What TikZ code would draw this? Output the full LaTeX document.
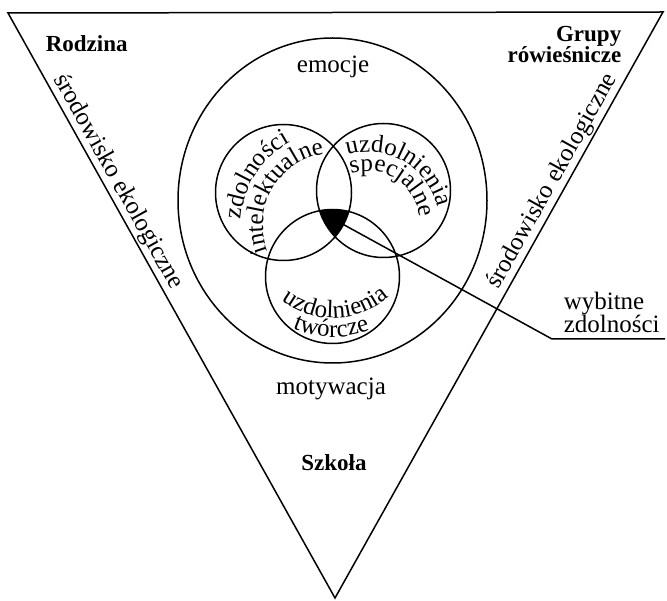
\documentclass[tikz,border=0pt]{standalone}
\usepackage{fontspec}
\setmainfont{Liberation Serif}
\usetikzlibrary{decorations.text,positioning}

\newcommand\arcfont{\fontsize{25}{25}\selectfont}

\begin{document}
\begin{tikzpicture}[
    x=1pt, y=1pt,
    line width=1.5pt,
    every node/.style={inner sep=0pt}
]

% Define styles
\tikzstyle{word} = [font=\fontsize{25}{23}\selectfont]
\tikzstyle{heading} = [font=\bfseries\fontsize{23}{21}\selectfont]
\tikzstyle{side} = [word, sloped, above, inner sep=1.5pt]
\tikzset{arctext/.style={decorate,
    decoration={text along path, text align=center, text={|\arcfont|#1}}}}

\useasboundingbox (0,0) rectangle (667,-601);

% Corners and centres
\coordinate (tl) at (8,-13);
\coordinate (tr) at (663,-12);
\coordinate (apex) at (335,-598);
\coordinate (intel) at (283.5,-192.5);
\coordinate (spec) at (383.5,-190.5);
\coordinate (tworcze) at (332.5,-276.5);

% Triangle and ellipse
\draw (tl) -- (tr) -- (apex) -- cycle;
\draw (332.5,-200.5) ellipse [x radius=154.5, y radius=162.5];

% Common part of the three circles
\begin{scope}
  \clip (intel) circle [radius=68];
  \clip (spec) circle [radius=67];
  \fill (tworcze) circle [radius=67];
\end{scope}

\draw (intel) circle [radius=68];
\draw (spec) circle [radius=67];
\draw (tworcze) circle [radius=67];

% Nodes
\node [heading, anchor=base west] (rodzina) at (45,-52) {Rodzina};
\node [heading, anchor=north east, align=right] (grupy) at (622,-26) {Grupy\\rówieśnicze};
\node [word, anchor=base] (emocje) at (333,-73) {emocje};
\node [word, anchor=base] (motywacja) at (331,-395) {motywacja};
\node [heading, anchor=base] (szkola) at (334,-471) {Szkoła};
\node [word, anchor=south west, align=left] (wybitne) at (563,-333) {wybitne\\zdolności};

% Along the sides
\path (tl) -- node [side, pos=0.3] (envl) {środowisko ekologiczne} (apex);
\path (apex) -- node [side, pos=0.7] (envr) {środowisko ekologiczne} (tr);

% Text in the circles
\path [arctext=zdolności] (335,-225) ++(195:94) arc [start angle=195, end angle=100, radius=94];
\path [arctext=intelektualne] (335,-225) ++(220:72) arc [start angle=220, end angle=80, radius=72];
\path [arctext=uzdolnienia] (368,-223) ++(130:71) arc [start angle=130, end angle=-10, radius=71];
\path [arctext=specjalne] (368,-223) ++(125:52) arc [start angle=125, end angle=-10, radius=52];
\path [arctext=uzdolnienia] (333,-233) ++(210:85) arc [start angle=210, end angle=334, radius=85];
\path [arctext=twórcze] (333,-233) ++(232:104) arc [start angle=232, end angle=306, radius=104];

% Pointer
\coordinate (core) at (337,-221);
\coordinate (bend) at (552,-339);
\coordinate (ulend) at (665,-339);
\draw (core) -- (bend) -- (ulend);

\end{tikzpicture}
\end{document}
